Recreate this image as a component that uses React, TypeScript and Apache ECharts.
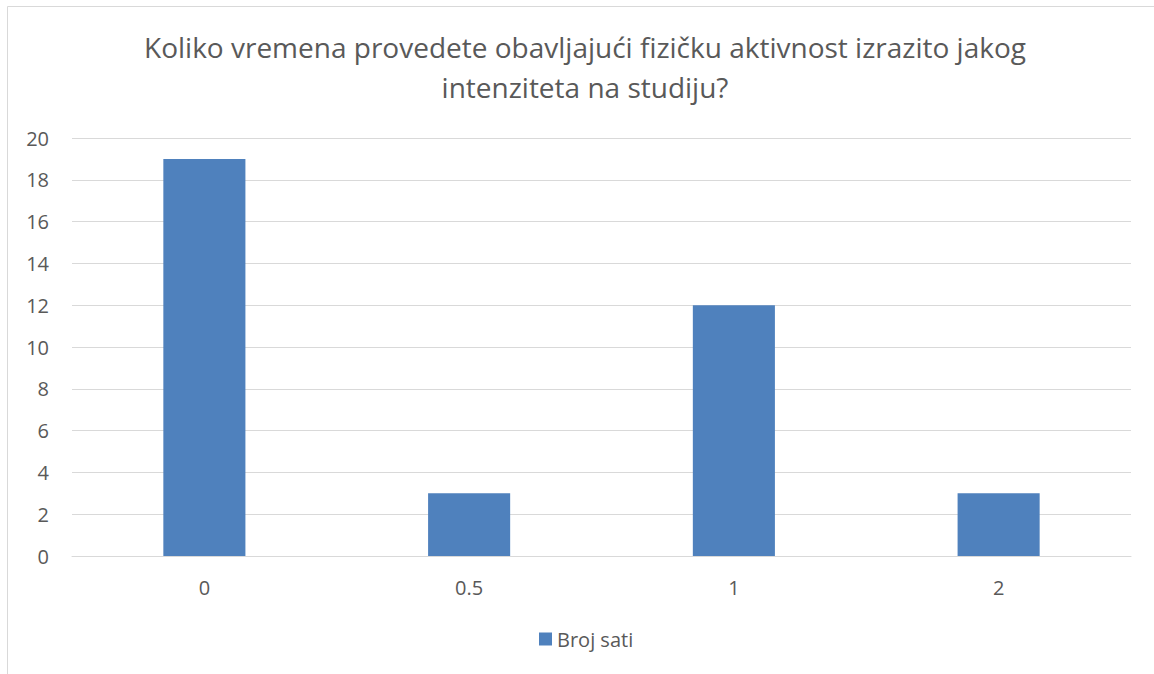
import React, { useEffect, useRef } from "react";
import * as echarts from "echarts";

const categories = ["0", "0.5", "1", "2"];
const values = [19, 3, 12, 3];
const seriesName = "Broj sati";
const titleText = "Koliko vremena provedete obavljajući fizičku aktivnost izrazito jakog\nintenziteta na studiju?";

export default function App() {
  const ref = useRef<HTMLDivElement>(null);
  useEffect(() => {
    if (!ref.current) return;
    const chart = echarts.init(ref.current, null, { renderer: "svg" });
    const font = "'Open Sans', 'Noto Sans', sans-serif";
    chart.setOption({
      animation: false,
      textStyle: { fontFamily: font },
      title: {
        text: titleText,
        left: 580,
        top: 22,
        textAlign: "center",
        textStyle: {
          fontFamily: font,
          fontSize: 28,
          fontWeight: "normal",
          color: "#595959",
          lineHeight: 40,
        },
      },
      graphic: [
        {
          type: "rect",
          shape: { x: 7.5, y: 6.5, width: 1160, height: 690 },
          style: { fill: "none", stroke: "#d9d9d9", lineWidth: 1 },
          silent: true,
        },
      ],
      legend: {
        data: [seriesName],
        left: 534,
        top: 624,
        icon: "rect",
        itemWidth: 13,
        itemHeight: 13,
        itemGap: 6,
        textStyle: { fontFamily: font, fontSize: 20, color: "#595959" },
      },
      grid: { left: 72, right: 23, top: 138, bottom: 118, containLabel: false },
      xAxis: {
        type: "category",
        data: categories,
        axisTick: { show: false },
        axisLine: { lineStyle: { color: "#d9d9d9" } },
        axisLabel: { fontFamily: font, fontSize: 20, color: "#595959", margin: 21 },
      },
      yAxis: {
        type: "value",
        min: 0,
        max: 20,
        interval: 2,
        axisLine: { show: false },
        axisTick: { show: false },
        splitLine: { lineStyle: { color: "#d9d9d9" } },
        axisLabel: { fontFamily: font, fontSize: 20, color: "#595959", margin: 23 },
      },
      series: [
        {
          name: seriesName,
          type: "bar",
          data: values,
          barWidth: "31%",
          itemStyle: { color: "#4f81bd" },
        },
      ],
    });
    return () => chart.dispose();
  }, []);
  return (
    <div
      ref={ref}
      style={{ position: "fixed", left: 0, top: 0, width: 1154, height: 674, background: "#fff" }}
    />
  );
}
